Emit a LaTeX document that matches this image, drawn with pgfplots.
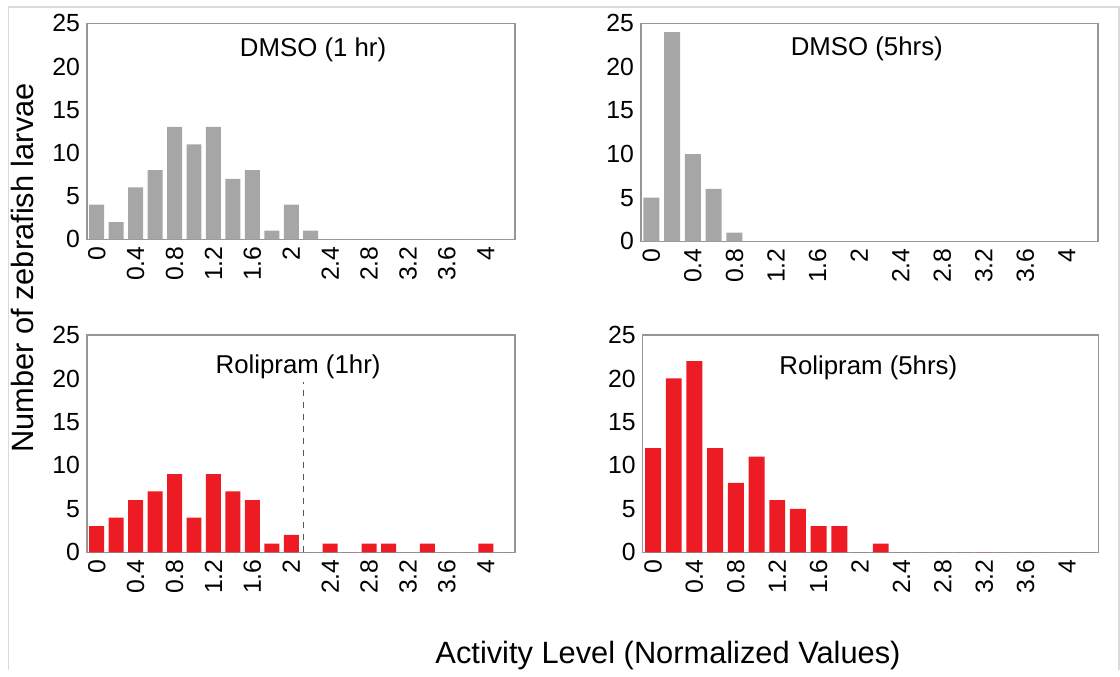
\documentclass[border=0pt]{standalone}
\usepackage{pgfplots}
\pgfplotsset{compat=1.18}
\usepackage{fontspec}
\setmainfont{Liberation Sans}
\definecolor{bargray}{RGB}{166,166,166}
\definecolor{barred}{RGB}{237,28,36}
\definecolor{axgray}{RGB}{150,150,150}
\definecolor{framegray}{RGB}{218,218,218}
\pgfplotsset{
  panel/.style={
    scale only axis,
    xmin=-0.5, xmax=21.5, ymin=0, ymax=25,
    ytick={0,5,...,25},
    xtick={0,2,...,20},
    xticklabels={0,0.4,0.8,1.2,1.6,2,2.4,2.8,3.2,3.6,4},
    major tick length=0pt,
    axis line style={axgray, line width=0.6pt},
    tick label style={font=\fontsize{12.4}{14}\selectfont},
    /pgf/number format/assume math mode=true,
    xticklabel style={rotate=90, anchor=east},
    anchor=south west,
    clip=false,
  },
  mybar/.style={ybar, bar width=0.77, draw=none, fill=#1},
}
\begin{document}
\begin{tikzpicture}
\path (0,0) rectangle (560pt,335pt);
\draw[framegray, line width=0.75pt] (4.25pt,0) -- (4.25pt,331.5pt) -- (559.6pt,331.5pt) -- (559.6pt,0);
% top-left
\begin{axis}[panel, at={(43.5pt,215.35pt)}, width=214pt, height=108pt]
\addplot[mybar=bargray] coordinates {(0,4) (1,2) (2,6) (3,8) (4,13) (5,11) (6,13) (7,7) (8,8) (9,1) (10,4) (11,1) (12,0) (13,0) (14,0) (15,0) (16,0) (17,0) (18,0) (19,0) (20,0) (21,0)};
\node[font=\fontsize{12.9}{15}\selectfont] at (axis cs:11.12,21.9) {DMSO (1 hr)};
\end{axis}
% top-right
\begin{axis}[panel, at={(320.5pt,214.35pt)}, width=228.5pt, height=109pt]
\addplot[mybar=bargray] coordinates {(0,5) (1,24) (2,10) (3,6) (4,1) (5,0) (6,0) (7,0) (8,0) (9,0) (10,0) (11,0) (12,0) (13,0) (14,0) (15,0) (16,0) (17,0) (18,0) (19,0) (20,0) (21,0)};
\node[font=\fontsize{12.9}{15}\selectfont] at (axis cs:10.37,22.1) {DMSO (5hrs)};
\end{axis}
% bottom-left
\begin{axis}[panel, at={(43.5pt,58.85pt)}, width=214pt, height=108.65pt]
\addplot[mybar=barred] coordinates {(0,3) (1,4) (2,6) (3,7) (4,9) (5,4) (6,9) (7,7) (8,6) (9,1) (10,2) (11,0) (12,1) (13,0) (14,1) (15,1) (16,0) (17,1) (18,0) (19,0) (20,1) (21,0)};
\addplot[black!65, dashed, line width=0.5pt] coordinates {(10.65,0) (10.65,19.6)};
\node[font=\fontsize{12.9}{15}\selectfont] at (axis cs:10.35,21.36) {Rolipram (1hr)};
\end{axis}
% bottom-right
\begin{axis}[panel, at={(321.35pt,58.85pt)}, width=227.7pt, height=108.65pt]
\addplot[mybar=barred] coordinates {(0,12) (1,20) (2,22) (3,12) (4,8) (5,11) (6,6) (7,5) (8,3) (9,3) (10,0) (11,1) (12,0) (13,0) (14,0) (15,0) (16,0) (17,0) (18,0) (19,0) (20,0) (21,0)};
\node[font=\fontsize{12.9}{15}\selectfont] at (axis cs:10.4,21.2) {Rolipram (5hrs)};
\end{axis}
\node[rotate=90, font=\fontsize{15.4}{18}\selectfont] at (11pt,201pt) {Number of zebrafish larvae};
\node[anchor=base, font=\fontsize{15.4}{18}\selectfont] at (334pt,3.4pt) {Activity Level (Normalized Values)};
\end{tikzpicture}
\end{document}
